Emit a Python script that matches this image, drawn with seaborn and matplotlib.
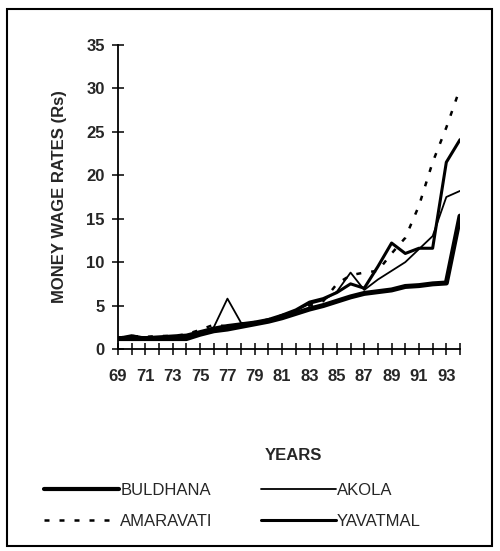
import matplotlib
matplotlib.use("Agg")
import matplotlib.pyplot as plt
from matplotlib.patches import Rectangle
import seaborn as sns
import pandas as pd

years = list(range(69, 95))
buldhana = [1.2, 1.2, 1.2, 1.2, 1.2, 1.2, 1.7, 2.1, 2.3, 2.6, 2.9, 3.2, 3.6,
            4.1, 4.6, 5.0, 5.5, 6.0, 6.4, 6.6, 6.8, 7.2, 7.3, 7.5, 7.6, 15.3]
akola = [1.3, 1.6, 1.3, 1.3, 1.4, 1.5, 1.9, 2.5, 5.8, 3.0, 3.0, 3.3, 3.8,
         4.4, 5.2, 5.6, 6.6, 8.8, 6.8, 8.0, 9.0, 10.0, 11.5, 13.0, 17.5, 18.2]
amaravati = [1.3, 1.5, 1.4, 1.5, 1.5, 1.7, 2.2, 2.8, 2.6, 2.9, 3.1, 3.4, 3.9,
             4.4, 5.0, 5.5, 7.5, 8.5, 8.8, 9.0, 11.0, 12.8, 16.5, 21.5, 25.5, 30.0]
yavatmal = [1.2, 1.4, 1.3, 1.4, 1.5, 1.6, 2.0, 2.4, 2.7, 2.9, 3.1, 3.4, 3.9,
            4.5, 5.4, 5.8, 6.5, 7.5, 7.0, 9.5, 12.2, 11.0, 11.6, 11.6, 21.5, 24.1]

series = {"BULDHANA": buldhana, "AKOLA": akola,
          "AMARAVATI": amaravati, "YAVATMAL": yavatmal}
styles = {"BULDHANA": dict(lw=3.6, ls="-"),
          "AKOLA": dict(lw=1.3, ls="-"),
          "AMARAVATI": dict(lw=1.8, ls=(0, (2, 4))),
          "YAVATMAL": dict(lw=2.2, ls="-")}

sns.set_style("white")
plt.rcParams["font.family"] = ["Liberation Sans", "DejaVu Sans"]

fig = plt.figure(figsize=(5, 5.51), dpi=100)
ax = fig.add_axes([0.236, 0.3666, 0.684, 0.5517])

lines = {}
for name, vals in series.items():
    df = pd.DataFrame({"Year": years, "Wage": vals})
    sns.lineplot(data=df, x="Year", y="Wage", ax=ax, color="black",
                 linewidth=styles[name]["lw"], linestyle=styles[name]["ls"],
                 label=name, legend=False)
    lines[name] = ax.lines[-1]

ax.set_xlim(69, 94)
ax.set_ylim(0, 35)
ax.set_xticks(years)
ax.set_xticklabels([str(y) if (y - 69) % 2 == 0 else "" for y in years])
ax.set_yticks(range(0, 36, 5))
ax.tick_params(axis="both", direction="inout", length=9, width=1.1,
               labelsize=12, color="black", bottom=True, left=True)
ax.tick_params(axis="x", pad=10)
ax.tick_params(axis="y", pad=5)
for lab in ax.get_xticklabels() + ax.get_yticklabels():
    lab.set_fontweight("bold")
for side in ["top", "right"]:
    ax.spines[side].set_visible(False)
for side in ["left", "bottom"]:
    ax.spines[side].set_color("black")
    ax.spines[side].set_linewidth(1.3)

ax.set_xlabel("")
ax.set_ylabel("MONEY WAGE RATES (Rs)", fontsize=12, fontweight="bold",
              labelpad=14)
fig.text(0.586, 0.174, "YEARS", fontsize=12, fontweight="bold",
         ha="center", va="center")

order = ["BULDHANA", "AMARAVATI", "AKOLA", "YAVATMAL"]
leg = fig.legend([lines[n] for n in order], order, ncol=2,
                 loc="center", bbox_to_anchor=(0.465, 0.082), frameon=False,
                 fontsize=12, handlelength=4.5, handletextpad=0.05,
                 columnspacing=2.9, labelspacing=0.95)
leg.get_lines()[0].set_linewidth(3.0)

fig.patches.append(Rectangle((0.014, 0.009), 0.97, 0.975, fill=False,
                             edgecolor="black", linewidth=1.5,
                             transform=fig.transFigure))

fig.savefig("out.png", dpi=100)
